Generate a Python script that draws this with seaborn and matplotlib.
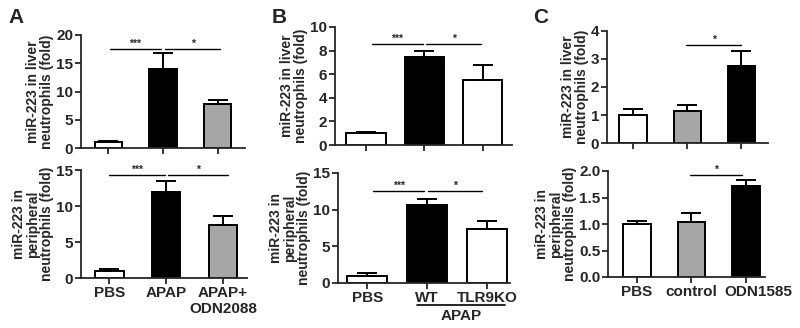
import seaborn as sns
import matplotlib.pyplot as plt
import matplotlib.transforms as mtransforms
import numpy as np
import pandas as pd

# panel A: APAP +/- ODN2088
a_cats = ['PBS', 'APAP', 'APAP+\nODN2088']
a_liver = [1.0, 14.0, 7.8]
a_liver_err = [0.2, 2.8, 0.7]
a_blood = [1.0, 11.9, 7.35]
a_blood_err = [0.3, 1.6, 1.2]
a_colors = ['white', 'black', '#a6a6a6']

# panel B: WT vs TLR9KO
b_cats = ['PBS', 'WT', 'TLR9KO']
b_liver = [1.0, 7.5, 5.5]
b_liver_err = [0.12, 0.5, 1.3]
b_blood = [1.0, 10.6, 7.4]
b_blood_err = [0.3, 0.8, 1.1]
b_colors = ['white', 'black', 'white']

# panel C: ODN1585
c_cats = ['PBS', 'control', 'ODN1585']
c_liver = [1.0, 1.15, 2.75]
c_liver_err = [0.22, 0.22, 0.55]
c_blood = [1.0, 1.04, 1.72]
c_blood_err = [0.06, 0.16, 0.11]
c_colors = ['white', '#a6a6a6', 'black']

sns.set_style('ticks')
plt.rcParams['font.family'] = ['Liberation Sans', 'DejaVu Sans']
plt.rcParams['font.weight'] = 'bold'

W, H = 800, 328
fig = plt.figure(figsize=(8, 3.28), dpi=100)


def make_ax(x0, x1, ytop, ybot):
    return fig.add_axes([x0 / W, 1 - ybot / H, (x1 - x0) / W, (ybot - ytop) / H])


def draw(ax, cats, vals, errs, colors, width, ylim, yticks, xlim, ylabel,
         sigs, show_labels, fmt=None):
    df = pd.DataFrame({'group': cats, 'value': vals})
    sns.barplot(data=df, x='group', y='value', hue='group', palette=colors,
                order=cats, hue_order=cats, legend=False, width=width,
                edgecolor='black', linewidth=1.4, errorbar=None, ax=ax,
                saturation=1)
    ax.errorbar(np.arange(len(cats)), vals, yerr=[np.zeros(len(cats)), errs],
                fmt='none', ecolor='black', elinewidth=1.4, capsize=7.5,
                capthick=1.4, zorder=1)
    ax.set_xlim(*xlim)
    ax.set_ylim(*ylim)
    ax.set_yticks(yticks)
    if fmt:
        ax.set_yticklabels([fmt.format(t) for t in yticks])
    ax.set_xlabel('')
    ax.set_ylabel(ylabel, fontsize=10, fontweight='bold', labelpad=1.5,
                  linespacing=1.0)
    sns.despine(ax=ax)
    for s in ['left', 'bottom']:
        ax.spines[s].set_linewidth(1.3)
    ax.tick_params(width=1.3, length=4, labelsize=11, pad=1.5)
    if not show_labels:
        ax.set_xticklabels([])
    for lab in ax.get_xticklabels() + ax.get_yticklabels():
        lab.set_fontweight('bold')
    for x0, x1, y, txt in sigs:
        ax.plot([x0, x1], [y, y], color='black', lw=1.0, clip_on=False)
        ax.text((x0 + x1) / 2, y, txt, ha='center', va='bottom', fontsize=7.5,
                fontweight='bold')


liver_lab = 'miR-223 in liver\nneutrophils (fold)'
blood_lab = 'miR-223 in\nperipheral\nneutrophils (fold)'

ax = make_ax(81, 245, 35, 148)
draw(ax, a_cats, a_liver, a_liver_err, a_colors, 0.5, (0, 20), [0, 5, 10, 15, 20],
     (-0.5, 2.5), liver_lab, [(0.03, 0.96, 17.6, '***'), (1.04, 2.04, 17.6, '*')], False)
ax = make_ax(81, 247, 170, 278)
draw(ax, a_cats, a_blood, a_blood_err, a_colors, 0.5, (0, 15), [0, 5, 10, 15],
     (-0.5, 2.42), blood_lab, [(0.0, 0.97, 14.3, '***'), (1.03, 2.08, 14.3, '*')], True)

ax = make_ax(335, 512, 27, 145)
draw(ax, b_cats, b_liver, b_liver_err, b_colors, 0.67, (0, 10), [0, 2, 4, 6, 8, 10],
     (-0.53, 2.5), liver_lab, [(0.1, 0.97, 8.6, '***'), (1.03, 1.97, 8.6, '*')], False)
ax = make_ax(338, 510, 173, 283)
draw(ax, b_cats, b_blood, b_blood_err, b_colors, 0.67, (0, 15), [0, 5, 10, 15],
     (-0.49, 2.38), blood_lab, [(0.1, 0.95, 12.6, '***'), (1.02, 1.92, 12.6, '*')], True)
trans = mtransforms.blended_transform_factory(ax.transData, ax.transAxes)
ax.plot([0.83, 2.3], [-0.2, -0.2], color='black', lw=1.2, transform=trans,
        clip_on=False)
ax.text(1.57, -0.24, 'APAP', transform=trans, ha='center', va='top',
        fontsize=11, fontweight='bold')

ax = make_ax(607, 768, 31, 143)
draw(ax, c_cats, c_liver, c_liver_err, c_colors, 0.5, (0, 4), [0, 1, 2, 3, 4],
     (-0.48, 2.49), liver_lab, [(0.98, 2.0, 3.5, '*')], False)
ax = make_ax(608, 765, 171, 277)
draw(ax, c_cats, c_blood, c_blood_err, c_colors, 0.51, (0, 2), [0, 0.5, 1.0, 1.5, 2.0],
     (-0.53, 2.35), blood_lab, [(0.98, 1.92, 1.93, '*')], True, fmt='{:.1f}')
# the last label sits a little right of its bar in the original
last = ax.get_xticklabels()[-1]
last.set_transform(last.get_transform() +
                   mtransforms.ScaledTranslation(12 / 100, 0, fig.dpi_scale_trans))

for letter, x in [('A', 8), ('B', 272), ('C', 533)]:
    fig.text(x / W, 1 - 8 / H, letter, fontsize=15, fontweight='bold',
             ha='left', va='top')

fig.savefig('out.png', dpi=100)
